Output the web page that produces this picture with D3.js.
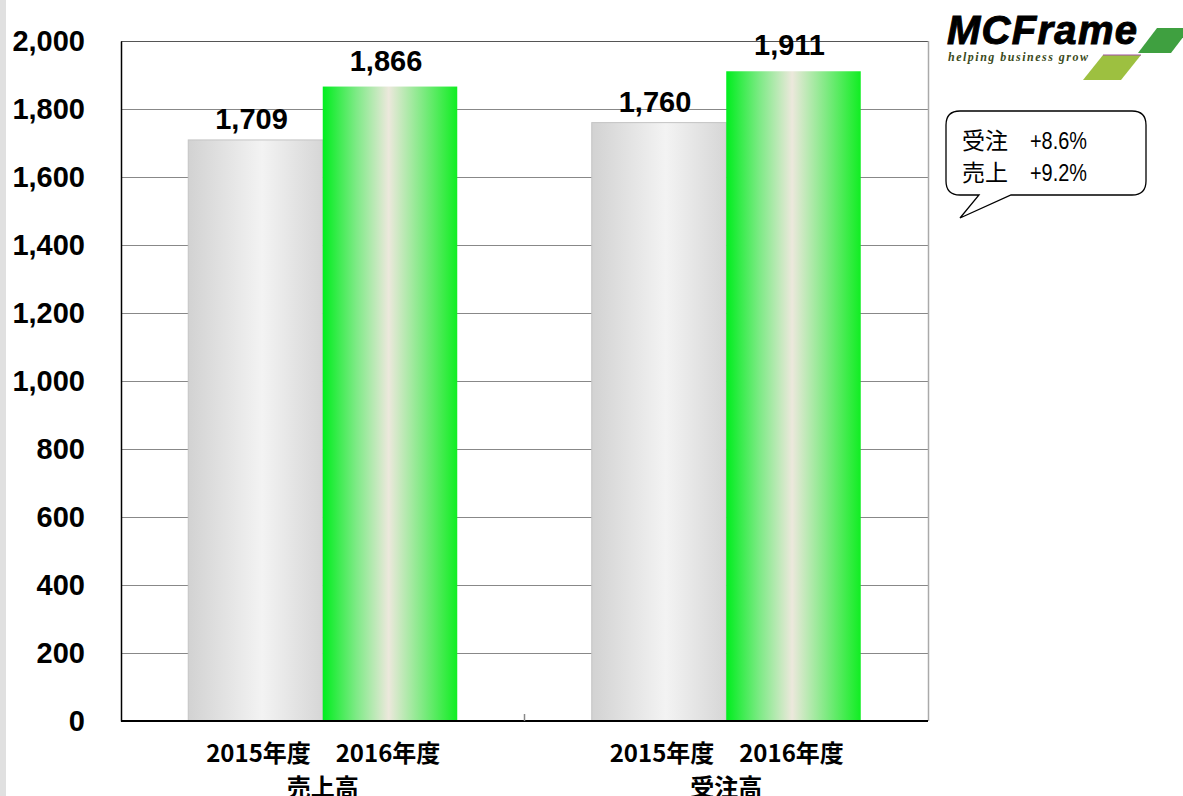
<!DOCTYPE html>
<html>
<head>
<meta charset="utf-8">
<script src="https://cdn.jsdelivr.net/npm/d3@7"></script>
<style>
  html, body { margin: 0; padding: 0; background: #fff; overflow: hidden; }
</style>
</head>
<body>
<div id="chart"></div>
<script>
// data
const categories = ["売上高", "受注高"];
const years = ["2015年度", "2016年度"];
const values2015 = [1709, 1760];
const values2016 = [1866, 1911];
const yTicks = [0, 200, 400, 600, 800, 1000, 1200, 1400, 1600, 1800, 2000];
const calloutLines = [["受注", "+8.6%"], ["売上", "+9.2%"]];

const W = 1183, H = 796;
const margin = { left: 121, right: 255, top: 41, bottom: 75 };

const svg = d3.select("#chart").append("svg")
    .attr("width", W).attr("height", H);

const defs = svg.append("defs");
const gGrey = defs.append("linearGradient").attr("id", "gradGrey");
[[0, "#d2d2d2"], [0.55, "#f3f3f3"], [1, "#d6d6d6"]].forEach(s =>
    gGrey.append("stop").attr("offset", s[0]).attr("stop-color", s[1]));
const gGreen = defs.append("linearGradient").attr("id", "gradGreen");
[[0, "#00ee1e"], [0.25, "#7eea86"], [0.49, "#ece8dc"], [0.75, "#7cea80"], [1, "#10ee22"]].forEach(s =>
    gGreen.append("stop").attr("offset", s[0]).attr("stop-color", s[1]));

// grey strip on the left edge
svg.append("rect").attr("x", 0).attr("y", 0).attr("width", 6).attr("height", H).attr("fill", "#e0e0e0");

const x0 = d3.scaleBand().domain(categories)
    .range([margin.left, W - margin.right]).paddingInner(0).paddingOuter(0);
const x1 = d3.scaleBand().domain(years)
    .range([0, x0.bandwidth()]).paddingInner(0).paddingOuter(0.5);
const y = d3.scaleLinear().domain([0, 2000]).range([H - margin.bottom, margin.top]);

// gridlines
svg.append("g").selectAll("line")
    .data(yTicks.filter(d => d > 0))
    .join("line")
    .attr("x1", margin.left).attr("x2", W - margin.right)
    .attr("y1", d => y(d) + 0.5).attr("y2", d => y(d) + 0.5)
    .attr("stroke", d => d === 2000 ? "#555" : "#888").attr("stroke-width", 1);

// right border
svg.append("line")
    .attr("x1", W - margin.right + 0.5).attr("x2", W - margin.right + 0.5)
    .attr("y1", y(2000)).attr("y2", y(0))
    .attr("stroke", "#aaa").attr("stroke-width", 1.5);

// bars
const rows = categories.map((c, i) => ({ cat: c, vals: [values2015[i], values2016[i]] }));
const groups = svg.append("g").selectAll("g")
    .data(rows).join("g")
    .attr("transform", d => `translate(${x0(d.cat)},0)`);

groups.selectAll("rect")
    .data(d => d.vals.map((v, j) => ({ year: years[j], v: v, j: j })))
    .join("rect")
    .attr("x", d => x1(d.year))
    .attr("y", d => y(d.v))
    .attr("width", x1.bandwidth())
    .attr("height", d => y(0) - y(d.v))
    .attr("fill", d => d.j === 0 ? "url(#gradGrey)" : "url(#gradGreen)")
    .attr("stroke", d => d.j === 0 ? "#c4c4c4" : "none")
    .attr("stroke-width", 1);

// value labels
groups.selectAll("text.val")
    .data(d => d.vals.map((v, j) => ({ year: years[j], v: v, j: j })))
    .join("text").attr("class", "val")
    .attr("x", d => x1(d.year) + x1.bandwidth() / 2 - 4)
    .attr("y", d => y(d.v) - (d.j === 0 ? 11 : 16))
    .attr("text-anchor", "middle")
    .style("font", "bold 29px 'Liberation Sans', Arial, sans-serif")
    .attr("fill", "#000")
    .text(d => d3.format(",")(d.v));

// y axis
const yAxis = svg.append("g")
    .attr("transform", `translate(${margin.left},0)`)
    .call(d3.axisLeft(y).tickValues(yTicks).tickSize(0).tickPadding(36).tickFormat(d3.format(",")));
yAxis.select(".domain").attr("stroke", "#000").attr("stroke-width", 1.5);
yAxis.selectAll("text")
    .style("font", "bold 29px 'Liberation Sans', Arial, sans-serif")
    .attr("fill", "#000");

// x axis
svg.append("line")
    .attr("x1", margin.left).attr("x2", W - margin.right)
    .attr("y1", y(0)).attr("y2", y(0))
    .attr("stroke", "#000").attr("stroke-width", 2);
svg.append("g").selectAll("line")
    .data(categories.slice(1))
    .join("line")
    .attr("x1", d => x0(d)).attr("x2", d => x0(d))
    .attr("y1", y(0) - 7).attr("y2", y(0))
    .attr("stroke", "#888").attr("stroke-width", 1.5);

// category labels
groups.selectAll("text.yr")
    .data(years)
    .join("text").attr("class", "yr")
    .attr("x", (d, j) => x1(d) + x1.bandwidth() / 2 + (j === 0 ? 3 : -2))
    .attr("y", y(0) + 41)
    .attr("text-anchor", "middle")
    .style("font", "bold 24px 'Noto Sans CJK JP', sans-serif")
    .attr("fill", "#000")
    .text(d => d);
groups.append("text")
    .attr("x", x0.bandwidth() / 2)
    .attr("y", y(0) + 75)
    .attr("text-anchor", "middle")
    .style("font", "bold 24px 'Noto Sans CJK JP', sans-serif")
    .attr("fill", "#000")
    .text(d => d.cat);

// callout bubble
const bx = 946, by = 111, bw = 200, bh = 84, r = 14;
const bubble = `M${bx + r},${by} H${bx + bw - r} Q${bx + bw},${by} ${bx + bw},${by + r}
  V${by + bh - r} Q${bx + bw},${by + bh} ${bx + bw - r},${by + bh}
  H${bx + 65} L${960},${218} L${bx + 33},${by + bh}
  H${bx + r} Q${bx},${by + bh} ${bx},${by + bh - r} V${by + r} Q${bx},${by} ${bx + r},${by} Z`;
svg.append("path").attr("d", bubble).attr("fill", "#fff").attr("stroke", "#000").attr("stroke-width", 1.3);
const cl = svg.append("g").selectAll("g").data(calloutLines).join("g")
    .attr("transform", (d, i) => `translate(962,${149 + i * 32})`)
    .style("font", "23px 'Noto Sans CJK JP', sans-serif");
cl.append("text").attr("x", 0).text(d => d[0]);
cl.append("text").attr("x", 68)
    .style("font", "23px 'Liberation Sans', sans-serif")
    .attr("textLength", 57).attr("lengthAdjust", "spacingAndGlyphs")
    .text(d => d[1]);

// logo
const logo = svg.append("g");
logo.append("polygon").attr("points", "1083,80 1103,55 1141,55 1121,80").attr("fill", "#9dc040");
logo.append("polygon").attr("points", "1138,53 1157,28 1190,28 1171,53").attr("fill", "#3fa040");
logo.append("line").attr("x1", 1103).attr("y1", 55).attr("x2", 1141).attr("y2", 55).attr("stroke", "#a050a0").attr("stroke-width", 1);
logo.append("text").attr("x", 947).attr("y", 44)
    .style("font", "italic 900 40px 'Liberation Sans', Arial, sans-serif")
    .attr("fill", "#000").attr("stroke", "#000").attr("stroke-width", 1)
    .attr("textLength", 190).text("MCFrame");
logo.append("text").attr("x", 948).attr("y", 61)
    .style("font", "italic bold 12px 'Liberation Serif', serif")
    .attr("fill", "#3a4a20").attr("textLength", 140).text("helping business grow");
</script>
</body>
</html>
